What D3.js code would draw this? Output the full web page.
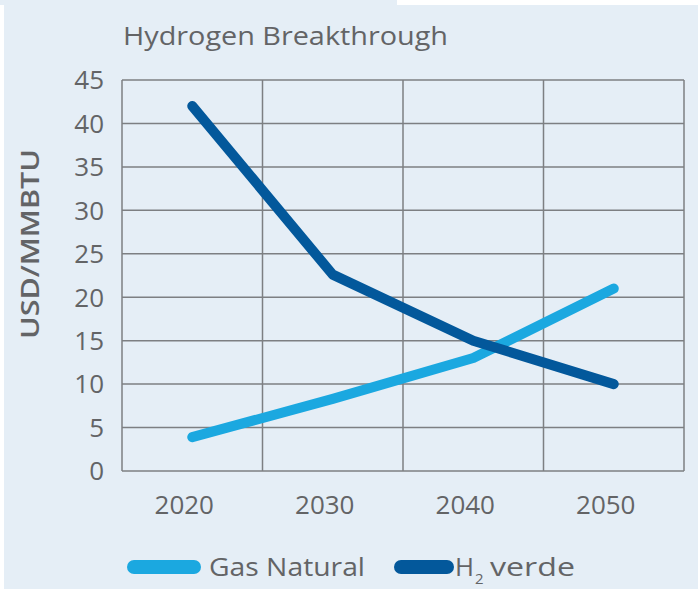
<!DOCTYPE html>
<html>
<head>
<meta charset="utf-8">
<script src="https://cdn.jsdelivr.net/npm/d3@7"></script>
<style>
  body { margin: 0; background: #ffffff; }
  text { font-family: "Open Sans", "Noto Sans", sans-serif; fill: #636466; font-weight: 500; }
</style>
</head>
<body>
<div id="chart"></div>
<script>
// data
var years = [2020, 2030, 2040, 2050];
var gasNatural = [3.9, 8.3, 13, 21];
var h2Verde = [42, 22.6, 15, 10];
var yTicks = [0, 5, 10, 15, 20, 25, 30, 35, 40, 45];
var gridYears = [2015, 2025, 2035, 2045, 2055];
var seriesNames = ["Gas Natural", "H2 verde"];

var w = 698, h = 589;

var svg = d3.select("#chart")
  .append("svg")
    .attr("width", w)
    .attr("height", h);

// background panel
svg.append("rect").attr("x", 0).attr("y", 0).attr("width", w).attr("height", h).attr("fill", "#e5eef6");
svg.append("rect").attr("x", 397).attr("y", 0).attr("width", w - 397).attr("height", 5).attr("fill", "#ffffff");
svg.append("rect").attr("x", 0).attr("y", 5).attr("width", 4).attr("height", h - 5).attr("fill", "#ffffff");

var x = d3.scaleLinear().domain([2015, 2055]).range([122, 684]);
var y = d3.scaleLinear().domain([0, 45]).range([471, 80]);

var grid = svg.append("g");

grid.selectAll("line.h")
  .data(yTicks)
  .enter().append("line")
    .attr("class", "h")
    .attr("x1", x(2015)).attr("x2", x(2055))
    .attr("y1", function(d) { return y(d); })
    .attr("y2", function(d) { return y(d); })
    .attr("stroke", "#7d7f82")
    .attr("stroke-width", 1.5);

grid.selectAll("line.v")
  .data(gridYears)
  .enter().append("line")
    .attr("class", "v")
    .attr("x1", function(d) { return x(d); })
    .attr("x2", function(d) { return x(d); })
    .attr("y1", y(45)).attr("y2", y(0))
    .attr("stroke", "#7d7f82")
    .attr("stroke-width", 1.5);

// y tick labels
svg.selectAll("text.ytick")
  .data(yTicks)
  .enter().append("text")
    .attr("class", "ytick")
    .attr("x", 104)
    .attr("y", function(d) { return y(d); })
    .attr("dy", "0.36em")
    .attr("text-anchor", "end")
    .style("font-size", "26px")
    .text(function(d) { return d; });

// x labels
svg.selectAll("text.xtick")
  .data(years)
  .enter().append("text")
    .attr("class", "xtick")
    .attr("x", function(d) { return x(d) - 8; })
    .attr("y", 505)
    .attr("dy", "0.36em")
    .attr("text-anchor", "middle")
    .style("font-size", "26px")
    .text(function(d) { return d; });

// title + axis label
svg.append("text")
  .attr("x", 123)
  .attr("y", 45)
  .attr("textLength", 325)
  .attr("lengthAdjust", "spacingAndGlyphs")
  .style("font-size", "25px")
  .text("Hydrogen Breakthrough");

svg.append("text")
  .attr("transform", "translate(39,244) rotate(-90)")
  .attr("text-anchor", "middle")
  .attr("textLength", 190)
  .attr("lengthAdjust", "spacingAndGlyphs")
  .style("font-size", "26px")
  .style("font-weight", "600")
  .text("USD/MMBTU");

var line = d3.line()
  .x(function(d, i) { return x(years[i]); })
  .y(function(d) { return y(d); });

var colors = ["#1ba8e0", "#03589b"];

[gasNatural, h2Verde].forEach(function(s, i) {
  svg.append("path")
    .datum(s)
    .attr("d", line)
    .attr("fill", "none")
    .attr("stroke", colors[i])
    .attr("stroke-width", 10)
    .attr("stroke-linecap", "round")
    .attr("stroke-linejoin", "round");
});

// legend
var leg = [
  { x1: 134, x2: 194, tx: 209 },
  { x1: 401, x2: 447, tx: 455 }
];

leg.forEach(function(l, i) {
  svg.append("line")
    .attr("x1", l.x1).attr("x2", l.x2)
    .attr("y1", 567).attr("y2", 567)
    .attr("stroke", colors[i])
    .attr("stroke-width", 14)
    .attr("stroke-linecap", "round");
});

svg.append("text")
  .attr("x", leg[0].tx)
  .attr("y", 567)
  .attr("dy", "0.36em")
  .attr("textLength", 156)
  .attr("lengthAdjust", "spacingAndGlyphs")
  .style("font-size", "26px")
  .text(seriesNames[0]);

var t2 = svg.append("text")
  .attr("y", 567)
  .attr("dy", "0.36em")
  .style("font-size", "26px");
t2.append("tspan").attr("x", leg[1].tx).attr("textLength", 19).attr("lengthAdjust", "spacingAndGlyphs").text("H");
t2.append("tspan").attr("x", leg[1].tx + 20).attr("dy", "8").style("font-size", "15px").text("2");
t2.append("tspan").attr("x", leg[1].tx + 35).attr("dy", "-8").attr("textLength", 85).attr("lengthAdjust", "spacingAndGlyphs").text("verde");
</script>
</body>
</html>
